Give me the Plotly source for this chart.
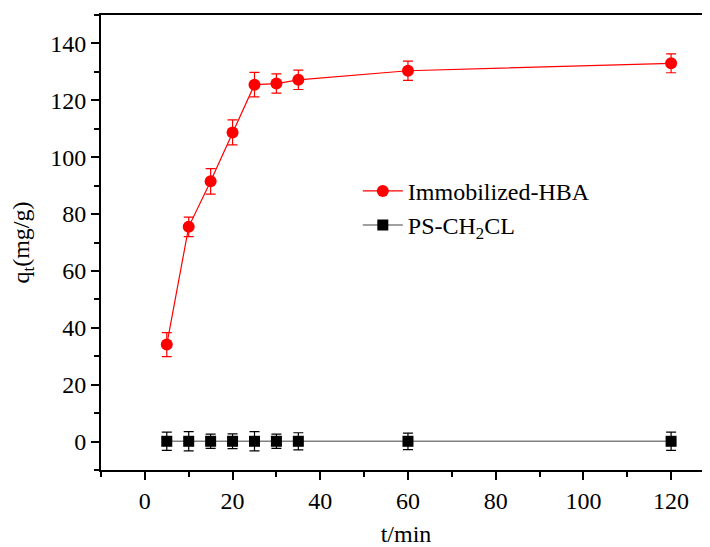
import plotly.graph_objects as go

t = [5, 10, 15, 20, 25, 30, 35, 60, 120]
hba = [34.1, 75.5, 91.5, 108.7, 125.5, 125.9, 127.2, 130.4, 133.0]
hba_err = [4.2, 3.4, 4.5, 4.4, 4.3, 3.4, 3.4, 3.4, 3.3]
ps = [0.1, 0.1, 0.1, 0.1, 0.1, 0.1, 0.1, 0.1, 0.1]
ps_err = [3.2, 3.4, 2.5, 2.6, 3.4, 2.5, 3.0, 2.9, 3.2]

FONT = "Liberation Serif"
FS = 24

fig = go.Figure()
fig.add_trace(go.Scatter(
    x=t, y=hba, name="Immobilized-HBA", mode="lines+markers",
    line=dict(color="#ff0000", width=1.2),
    marker=dict(symbol="circle", size=12, color="#ff0000"),
    error_y=dict(type="data", array=hba_err, visible=True, color="#ff0000", thickness=1.2, width=5),
))
fig.add_trace(go.Scatter(
    x=t, y=ps, name="PS-CH<sub>2</sub>CL", mode="lines+markers",
    line=dict(color="#808080", width=1.5),
    marker=dict(symbol="square", size=11, color="#000000"),
    error_y=dict(type="data", array=ps_err, visible=True, color="#000000", thickness=1.2, width=5),
))

axis_common = dict(
    showgrid=False, zeroline=False, showline=True, linecolor="black", linewidth=2,
    mirror=True, ticks="outside", ticklen=8, tickwidth=2, tickcolor="black",
    tickfont=dict(family=FONT, size=FS, color="black"),
    minor=dict(ticks="outside", ticklen=5, tickwidth=1.5, tickcolor="black"),
)

fig.update_xaxes(
    range=[-10, 129.1], tickvals=[0, 20, 40, 60, 80, 100, 120],
    minor_dtick=10, minor_tick0=0,
    title=dict(text="t/min", font=dict(family=FONT, size=FS, color="black"), standoff=18),
    **axis_common,
)
fig.update_yaxes(
    range=[-10, 150], tickvals=[0, 20, 40, 60, 80, 100, 120, 140],
    minor_dtick=10, minor_tick0=0,
    title=dict(text="q<sub>t</sub>(mg/g)", font=dict(family=FONT, size=FS, color="black"), standoff=15),
    **axis_common,
)

fig.update_layout(
    width=703, height=539,
    margin=dict(l=93, r=0, t=7, b=77, autoexpand=False),
    plot_bgcolor="white", paper_bgcolor="white",
    font=dict(family=FONT, color="black"),
    legend=dict(
        x=0.421, y=0.662, xanchor="left", yanchor="top",
        font=dict(family=FONT, size=FS, color="black"),
        bgcolor="rgba(0,0,0,0)", tracegroupgap=0, itemwidth=40,
    ),
    showlegend=True,
)

fig.write_html("out.html")
